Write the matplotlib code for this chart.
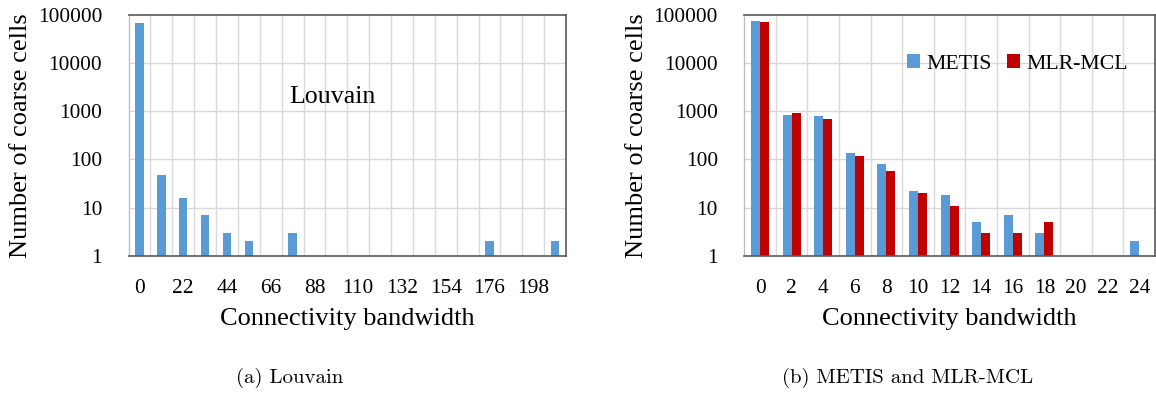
import numpy as np
import matplotlib
matplotlib.use("Agg")
import matplotlib.pyplot as plt
from matplotlib.patches import Patch

# ---- data ----
louvain_bw = [0, 11, 22, 33, 44, 55, 66, 77, 88, 99, 110, 121, 132, 143, 154, 165, 176, 187, 198, 209]
louvain_counts = [67000, 48, 16, 7, 3, 2, 0, 3, 0, 0, 0, 0, 0, 0, 0, 0, 2, 0, 0, 2]

mm_bw = [0, 2, 4, 6, 8, 10, 12, 14, 16, 18, 20, 22, 24]
metis_counts = [76000, 850, 800, 135, 81, 22, 18, 5, 7, 3, 0, 0, 2]
mlrmcl_counts = [71000, 930, 700, 117, 58, 20, 11, 3, 3, 5, 0, 0, 0]

yticks = [1, 10, 100, 1000, 10000, 100000]

BLUE = "#5B9BD5"
RED = "#C00000"
GRID = "#D9D9D9"
SERIF = ["Liberation Serif", "DejaVu Serif"]

plt.rcParams["font.family"] = SERIF

fig = plt.figure(figsize=(11.56, 3.93), dpi=100)

def clean(v):
    return [np.nan if c <= 0 else c for c in v]

def style(ax, n):
    ax.set_yscale("log")
    ax.set_ylim(1, 100000)
    ax.set_xlim(-0.5, n - 0.5)
    ax.set_yticks(yticks)
    ax.set_yticklabels([str(t) for t in yticks])
    ax.yaxis.set_minor_locator(matplotlib.ticker.NullLocator())
    ax.tick_params(axis="both", length=0, labelsize=15.4)
    ax.tick_params(axis="y", pad=19)
    ax.tick_params(axis="x", pad=17)
    for b in np.arange(0.5, n - 0.5, 1.0):
        ax.axvline(b, color=GRID, lw=1.0, zorder=0)
    for t in yticks[1:-1]:
        ax.axhline(t, color=GRID, lw=1.0, zorder=0)
    for s in ["top", "right", "bottom"]:
        ax.spines[s].set_color("#595959")
        ax.spines[s].set_linewidth(1.2)
    ax.spines["left"].set_color("#BFBFBF")
    ax.spines["left"].set_linewidth(1.0)
    ax.set_xlabel("Connectivity bandwidth", fontsize=19, labelpad=7)
    ax.set_ylabel("Number of coarse cells", fontsize=19, labelpad=4)

# ---- left: Louvain ----
ax1 = fig.add_axes([128.5 / 1156, 1 - 255.7 / 393, (566 - 128.5) / 1156, (255.7 - 15) / 393])
x1 = np.arange(len(louvain_bw))
ax1.bar(x1, clean(louvain_counts), width=0.39, color=BLUE, zorder=2)
style(ax1, len(louvain_bw))
ax1.set_xticks(x1[::2])
ax1.set_xticklabels([str(b) for b in louvain_bw[::2]])
ax1.text(0.467, 0.66, "Louvain", transform=ax1.transAxes, fontsize=18.6,
         ha="center", va="center")

# ---- right: METIS and MLR-MCL ----
ax2 = fig.add_axes([744.2 / 1156, 1 - 255.7 / 393, (1155 - 744.2) / 1156, (255.7 - 15) / 393])
x2 = np.arange(len(mm_bw))
w = 0.285
ax2.bar(x2 - w / 2, clean(metis_counts), width=w, color=BLUE, zorder=2, label="METIS")
ax2.bar(x2 + w / 2, clean(mlrmcl_counts), width=w, color=RED, zorder=2, label="MLR-MCL")
style(ax2, len(mm_bw))
ax2.set_xticks(x2)
ax2.set_xticklabels([str(b) for b in mm_bw])
handles = [Patch(facecolor=BLUE), Patch(facecolor=RED)]
ax2.legend(handles, ["METIS", "MLR-MCL"], ncol=2, frameon=False, fontsize=15.7,
           loc="center left", bbox_to_anchor=(0.396, 0.796), borderpad=0,
           handlelength=0.6, handleheight=0.6, handletextpad=0.28,
           columnspacing=0.7, borderaxespad=0)

# ---- captions ----
cap_font = ["cmr10", "DejaVu Serif"]
fig.text(290 / 1156, 1 - 378 / 393, "(a) Louvain", family=cap_font, fontsize=15,
         ha="center", va="center")
fig.text(907.5 / 1156, 1 - 378 / 393, "(b) METIS and MLR-MCL", family=cap_font,
         fontsize=15, ha="center", va="center")

fig.savefig("out.png", dpi=100)
